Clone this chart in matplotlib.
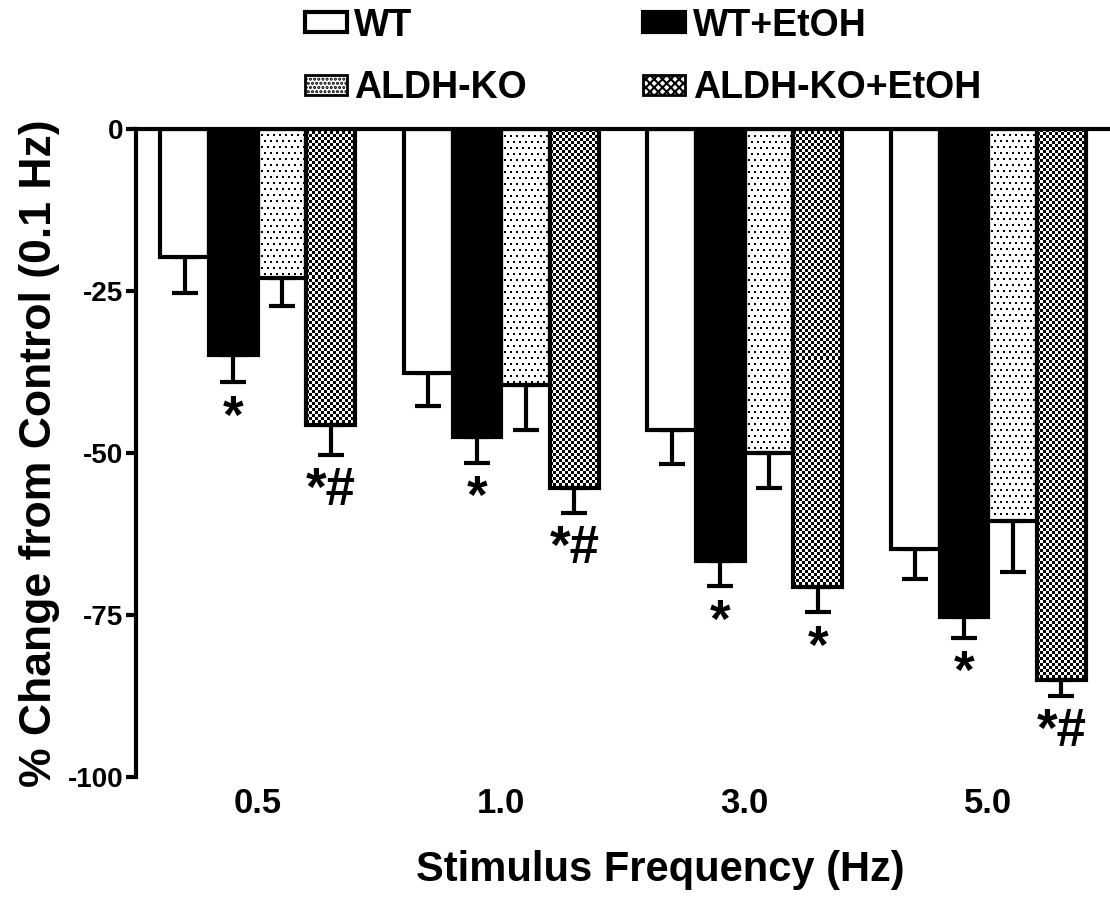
import numpy as np
import matplotlib
matplotlib.use("Agg")
import matplotlib.pyplot as plt
from matplotlib.patches import Patch

plt.rcParams['font.family'] = ['Liberation Sans', 'DejaVu Sans']
plt.rcParams['font.weight'] = 'bold'
plt.rcParams['hatch.linewidth'] = 1.5

# ---- data ----
frequencies = ["0.5", "1.0", "3.0", "5.0"]
series_names = ["WT", "WT+EtOH", "ALDH-KO", "ALDH-KO+EtOH"]
wt_mean = [-19.8, -37.7, -46.5, -64.8]
wt_err = [5.5, 5.0, 5.2, 4.6]
wt_etoh_mean = [-34.9, -47.5, -66.7, -75.3]
wt_etoh_err = [4.2, 4.0, 3.9, 3.3]
ko_mean = [-23.0, -39.5, -50.0, -60.5]
ko_err = [4.3, 7.0, 5.4, 7.9]
ko_etoh_mean = [-45.7, -55.4, -70.7, -85.0]
ko_etoh_err = [4.6, 3.9, 3.9, 2.5]
wt_etoh_marks = ["*", "*", "*", "*"]
ko_etoh_marks = ["*#", "*#", "*", "*#"]

means = [wt_mean, wt_etoh_mean, ko_mean, ko_etoh_mean]
errs = [wt_err, wt_etoh_err, ko_err, ko_etoh_err]
marks = [None, wt_etoh_marks, None, ko_etoh_marks]
textures = [None, None, "dots", "checker"]
facecols = ["white", "black", "white", "white"]

W, H = 1110, 898
fig = plt.figure(figsize=(W / 100, H / 100), dpi=100)
ax = fig.add_axes([136 / W, 1 - 777 / H, 1 - 136 / W, (777 - 129) / H])

x = np.arange(len(frequencies))
bw = 0.2
offsets = [-1.5 * bw, -0.5 * bw, 0.5 * bw, 1.5 * bw]
ax.set_xlim(-0.5, 3.5)
ax.set_ylim(-100, 0)


def make_texture(kind, hpx, wpx):
    ii, jj = np.mgrid[0:hpx, 0:wpx]
    if kind == "checker":
        return (((ii // 3) + (jj // 3)) % 2).astype(float)
    arr = np.zeros((hpx, wpx))
    row = ii // 6
    shift = (row % 2) * 3
    mask = ((ii % 6) < 2) & (((jj + shift) % 6) < 2)
    arr[mask] = 1.0
    return arr


for k in range(4):
    bars = ax.bar(x + offsets[k], means[k], bw, color=facecols[k] if textures[k] is None else "none",
                  edgecolor="black", linewidth=3.0, zorder=3)
    ax.errorbar(x + offsets[k], means[k], yerr=[errs[k], [0] * len(x)], fmt="none",
                ecolor="black", elinewidth=3.0, capsize=9.5, capthick=3.0, zorder=2)
    if textures[k] is not None:
        for rect, m in zip(bars.patches, means[k]):
            x0 = rect.get_x()
            x1 = x0 + rect.get_width()
            p0 = ax.transData.transform((x0, 0))
            p1 = ax.transData.transform((x1, m))
            wpx = max(int(round(abs(p1[0] - p0[0]))), 1)
            hpx = max(int(round(abs(p1[1] - p0[1]))), 1)
            arr = make_texture(textures[k], hpx, wpx)
            im = ax.imshow(arr, cmap="gray_r", vmin=0, vmax=1, extent=[x0, x1, m, 0],
                           origin="upper", aspect="auto", interpolation="nearest", zorder=1)
            im.set_clip_path(rect)
    if marks[k] is not None:
        for xi, m, e, s in zip(x + offsets[k], means[k], errs[k], marks[k]):
            ax.annotate(s, xy=(xi, m - e), xytext=(0, -8), textcoords="offset points",
                        ha="center", va="top", fontsize=38, fontweight="bold")

ax.set_xlim(-0.5, 3.5)
ax.set_ylim(-100, 0)

ax.spines["right"].set_visible(False)
ax.spines["bottom"].set_visible(False)
ax.spines["top"].set_linewidth(3.0)
ax.spines["left"].set_linewidth(3.0)
ax.spines["top"].set_zorder(4)

ax.set_yticks([0, -25, -50, -75, -100])
ax.set_yticklabels(["0", "-25", "-50", "-75", "-100"])
ax.tick_params(axis="y", length=7, width=3, labelsize=20, pad=2)
ax.set_xticks(x)
ax.set_xticklabels(frequencies)
ax.tick_params(axis="x", length=0, labelsize=25, pad=7)
for lab in ax.get_xticklabels() + ax.get_yticklabels():
    lab.set_fontweight("bold")

ax.set_xlabel("Stimulus Frequency (Hz)", fontsize=30, fontweight="bold")
ax.xaxis.set_label_coords((660 - 136) / (W - 136), -(870 - 777) / (777 - 129))
ax.xaxis.label.set_va("center")
ax.set_ylabel("% Change from Control (0.1 Hz)", fontsize=32, fontweight="bold", labelpad=6)

handles = [
    Patch(facecolor="white", edgecolor="black", linewidth=3, label=series_names[0]),
    Patch(facecolor="white", edgecolor="black", linewidth=2, hatch="....", label=series_names[2]),
    Patch(facecolor="black", edgecolor="black", linewidth=3, label=series_names[1]),
    Patch(facecolor="white", edgecolor="black", linewidth=2, hatch="xxxx", label=series_names[3]),
]
leg = fig.legend(handles=handles, ncol=2, loc="center", bbox_to_anchor=(643 / W, 1 - 57 / H),
                 frameon=False, prop={"size": 27, "weight": "bold"},
                 handlelength=1.12, handleheight=0.45, handletextpad=0.2,
                 columnspacing=3.1, labelspacing=0.72, borderpad=0)

fig.savefig("out.png", dpi=100)
